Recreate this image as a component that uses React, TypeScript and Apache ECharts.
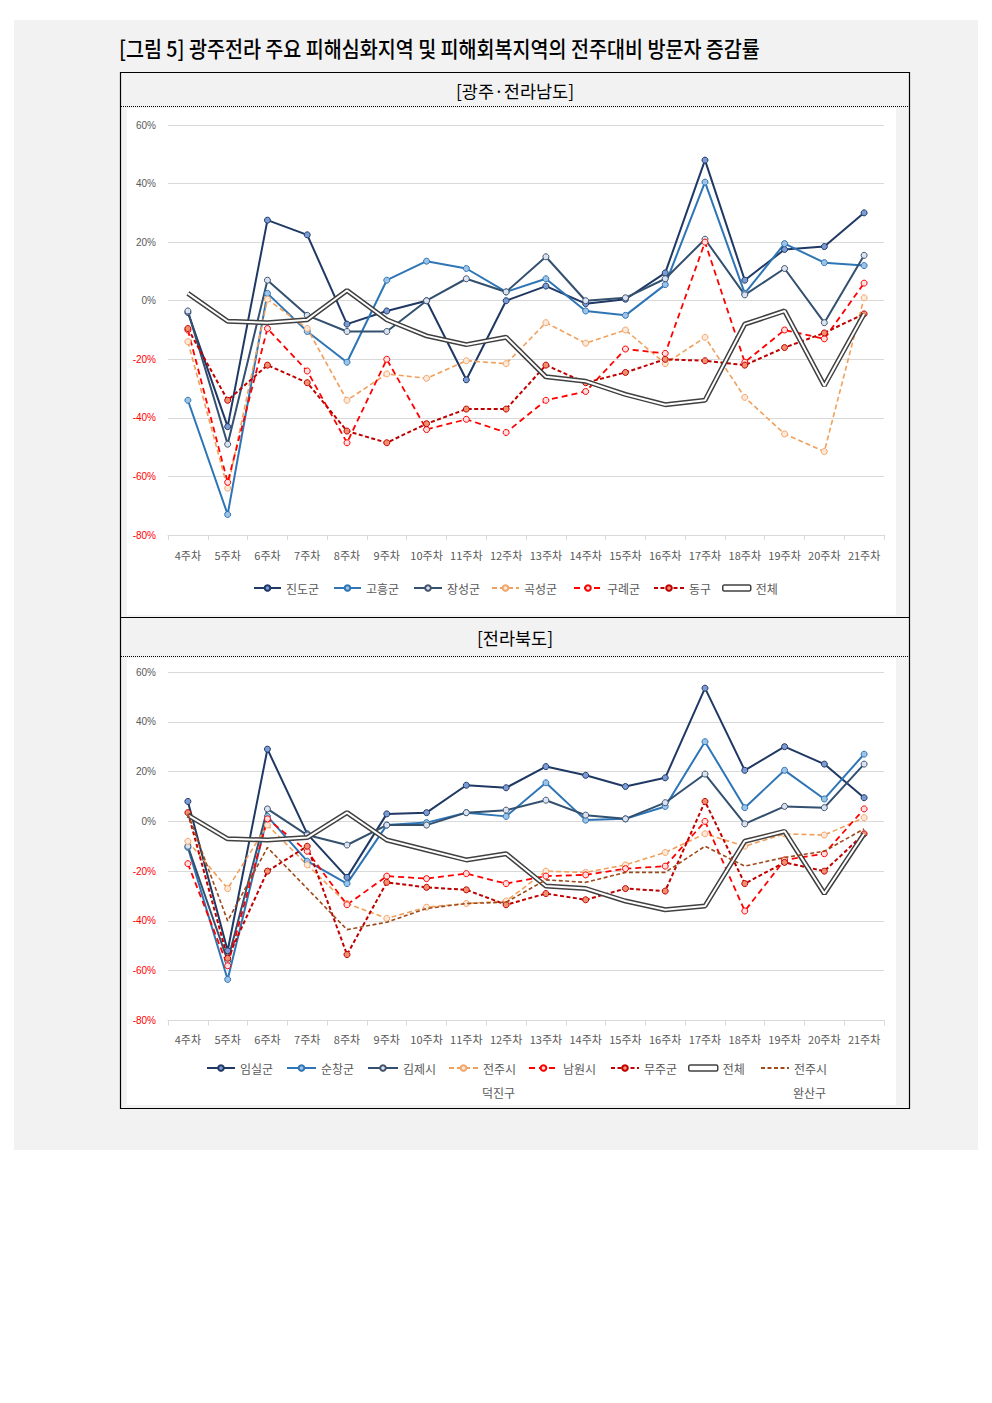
import React, { useEffect, useRef } from "react";
import * as echarts from "echarts";

// ---------- data ----------
const weeks = ["4주차", "5주차", "6주차", "7주차", "8주차", "9주차", "10주차", "11주차", "12주차", "13주차", "14주차", "15주차", "16주차", "17주차", "18주차", "19주차", "20주차", "21주차"];

// 광주·전라남도 (%)
const jindo = [-4, -43, 27.5, 22.5, -8, -3.5, 0, -27, 0, 5, -1, 0.5, 9.5, 48, 7, 17.5, 18.5, 30];
const goheung = [-34, -73, 2.5, -10.5, -21, 7, 13.5, 11, 3, 7.5, -3.5, -5, 5.5, 40.5, 2.5, 19.5, 13, 12];
const jangseong = [-3.5, -49, 7, -5, -10.5, -10.5, 0, 7.5, 3, 15, 0, 1, 7.5, 21, 2, 11, -7.5, 15.5];
const gokseong = [-14, -64, 0.5, -9.5, -34, -25, -26.5, -20.5, -21.5, -7.5, -14.5, -10, -21.5, -12.5, -33, -45.5, -51.5, 1];
const gurye = [-10, -62, -9.5, -24, -48.5, -20, -44, -40.5, -45, -34, -31, -16.5, -18, 20, -21, -10, -13, 6];
const donggu = [-9.5, -34, -22, -28, -44.5, -48.5, -42, -37, -37, -22, -28, -24.5, -20, -20.5, -22, -16, -11, -4.5];
const totalSouth = [2.5, -7, -7.5, -6.5, 3.5, -6.5, -12, -15, -12.5, -26, -27.5, -32, -35.5, -34, -8, -3.5, -29, -4.5];

// 전라북도 (%)
const imsil = [8, -52, 29, -5, -22.5, 3, 3.5, 14.5, 13.5, 22, 18.5, 14, 17.5, 53.5, 20.5, 30, 23, 9.5];
const sunchang = [-10.5, -63.5, 2, -16, -25, -1.5, -0.5, 3.5, 2, 15.5, 0.5, 1, 6, 32, 5.5, 20.5, 9, 27];
const gimje = [-10, -56, 5, -5.5, -9.5, -1.5, -1.5, 3.5, 4.5, 8.5, 2.5, 1, 7.5, 19, -1, 6, 5.5, 23];
const deokjin = [-8, -27, -1.5, -17.5, -33, -39, -34.5, -33, -32, -20, -20.5, -17.5, -12.5, -5, -10, -5, -5.5, 1.5];
const namwon = [-17, -58, 1, -12, -33.5, -22, -23, -21, -25, -22, -21.5, -19, -18, 0, -36, -15.5, -13, 5];
const muju = [3.5, -55, -20, -10, -53.5, -24.5, -26.5, -27.5, -33.5, -29, -31.5, -27, -28, 8, -25, -16.5, -20, -5];
const totalNorth = [2.5, -7, -7.5, -6.5, 3.5, -7.5, -11.5, -15.5, -13, -26, -27, -32, -35.5, -34, -8, -4, -29, -5];
const wansan = [3, -40, -10.5, -27, -43.5, -40.5, -35, -33, -32.5, -23.5, -24.5, -20.5, -20.5, -10, -18, -14.5, -12, -3];

const yMin = -80;
const yMax = 60;
const yStep = 20;

// ---------- styles ----------
const FONT = '"Noto Sans CJK KR", "Noto Sans", sans-serif';
type St = { line: string; width: number; dash?: number[]; fill?: string; border?: string };
const S_NAVY: St = { line: "#1f3864", width: 2, fill: "#7b9bd6", border: "#1f3864" };
const S_BLUE: St = { line: "#2e75b6", width: 2, fill: "#9dc3e6", border: "#2e75b6" };
const S_SLATE: St = { line: "#33506f", width: 2, fill: "#dae3f3", border: "#44546a" };
const S_ORANGE: St = { line: "#f0a05a", width: 1.6, dash: [5, 3], fill: "#fde9d9", border: "#f4a56b" };
const S_RED: St = { line: "#ff0000", width: 1.8, dash: [6, 4], fill: "#ffe0e0", border: "#ff0000" };
const S_DARKRED: St = { line: "#c00000", width: 2, dash: [4, 2.5], fill: "#f0906e", border: "#c00000" };
const S_BROWN: St = { line: "#9c4a1a", width: 1.6, dash: [4, 2.5] };

function lineSeries(name: string, data: number[], st: St, gi: number) {
  return {
    name,
    type: "line",
    xAxisIndex: gi,
    yAxisIndex: gi,
    data,
    symbol: st.fill ? "circle" : "none",
    symbolSize: 6,
    showSymbol: !!st.fill,
    lineStyle: { color: st.line, width: st.width, type: st.dash ? st.dash : "solid" },
    itemStyle: st.fill ? { color: st.fill, borderColor: st.border, borderWidth: 1 } : { color: st.line },
    emphasis: { disabled: true },
    z: 3,
  };
}

function totalSeries(data: number[], gi: number) {
  return [
    {
      name: "전체",
      type: "line",
      xAxisIndex: gi,
      yAxisIndex: gi,
      data,
      symbol: "none",
      lineStyle: { color: "#404040", width: 5 },
      itemStyle: { color: "#404040" },
      emphasis: { disabled: true },
      z: 4,
    },
    {
      name: "전체-inner-" + gi,
      type: "line",
      xAxisIndex: gi,
      yAxisIndex: gi,
      data,
      symbol: "none",
      lineStyle: { color: "#ffffff", width: 2 },
      itemStyle: { color: "#ffffff" },
      emphasis: { disabled: true },
      z: 4,
    },
  ];
}

function xAxis(gi: number, margin: number) {
  return {
    type: "category",
    gridIndex: gi,
    data: weeks,
    boundaryGap: true,
    axisLine: { show: true, onZero: false, lineStyle: { color: "#d9d9d9", width: 1 } },
    axisTick: { show: true, length: 5, interval: 0, lineStyle: { color: "#d9d9d9" } },
    axisLabel: { interval: 0, color: "#595959", fontSize: 11, fontFamily: FONT, margin },
    splitLine: { show: false },
  };
}

function yAxis(gi: number) {
  return {
    type: "value",
    gridIndex: gi,
    min: yMin,
    max: yMax,
    interval: yStep,
    axisLine: { show: false },
    axisTick: { show: false },
    axisLabel: {
      margin: 12,
      fontSize: 10,
      fontFamily: '"Liberation Sans Narrow", "Liberation Sans", Arial, sans-serif',
      formatter: (v: number) => `${v}%`,
      color: (v: any) => (Number(v) < 0 ? "#ff0000" : "#595959"),
    },
    splitLine: { show: true, lineStyle: { color: "#d9d9d9", width: 1 } },
  };
}

type LegItem = { name: string; x: number; y: number; w: number; kind?: "total" | "plain" };
function legendFor(it: LegItem) {
  let d: any = it.name;
  if (it.kind === "total") {
    d = { name: it.name, icon: "roundRect", itemStyle: { color: "#ffffff", borderColor: "#404040", borderWidth: 1.5 } };
  } else if (it.kind === "plain") {
    d = { name: it.name, itemStyle: { color: "rgba(0,0,0,0)", borderColor: "rgba(0,0,0,0)", borderWidth: 0, opacity: 0 } };
  }
  return {
    show: true,
    data: [d],
    left: it.x,
    top: it.y - 8,
    padding: 0,
    orient: "horizontal",
    itemWidth: it.w,
    itemHeight: it.kind === "total" ? 6 : 7,
    selectedMode: false,
    textStyle: { color: "#595959", fontSize: 12, fontFamily: FONT },
    formatter: (n: string) => n.split(" ")[0],
  };
}

const legendSouth: LegItem[] = [
  { name: "진도군", x: 253, y: 590, w: 27 },
  { name: "고흥군", x: 333, y: 590, w: 27 },
  { name: "장성군", x: 413, y: 590, w: 28 },
  { name: "곡성군", x: 491, y: 590, w: 27 },
  { name: "구례군", x: 573, y: 590, w: 28 },
  { name: "동구", x: 653, y: 590, w: 30 },
  { name: "전체", x: 722, y: 590, w: 28, kind: "total" },
];
const legendNorth: LegItem[] = [
  { name: "임실군", x: 206, y: 1070, w: 28 },
  { name: "순창군", x: 286, y: 1070, w: 29 },
  { name: "김제시", x: 367, y: 1070, w: 30 },
  { name: "전주시 덕진구", x: 448, y: 1070, w: 29 },
  { name: "남원시", x: 528, y: 1070, w: 29 },
  { name: "무주군", x: 610, y: 1070, w: 28 },
  { name: "전체", x: 688, y: 1070, w: 29, kind: "total" },
  { name: "전주시 완산구", x: 760, y: 1070, w: 28, kind: "plain" },
];

function buildOption() {
  const graphic: any[] = [
    { type: "rect", z: -20, silent: true, shape: { x: 14, y: 20, width: 964, height: 1130 }, style: { fill: "#f2f2f2" } },
    { type: "rect", z: -19, silent: true, shape: { x: 127, y: 108, width: 769, height: 507 }, style: { fill: "#ffffff" } },
    { type: "rect", z: -19, silent: true, shape: { x: 127, y: 658, width: 769, height: 447 }, style: { fill: "#ffffff" } },
    { type: "rect", z: 10, silent: true, shape: { x: 120.5, y: 72.5, width: 789, height: 1036 }, style: { fill: "none", stroke: "#000000", lineWidth: 1.2 } },
    { type: "line", z: 10, silent: true, shape: { x1: 121, y1: 106.5, x2: 909, y2: 106.5 }, style: { stroke: "#000000", lineWidth: 1, lineDash: [1, 1] } },
    { type: "line", z: 10, silent: true, shape: { x1: 121, y1: 617.5, x2: 909, y2: 617.5 }, style: { stroke: "#000000", lineWidth: 1.2 } },
    { type: "line", z: 10, silent: true, shape: { x1: 121, y1: 656.5, x2: 909, y2: 656.5 }, style: { stroke: "#000000", lineWidth: 1, lineDash: [1, 1] } },
    {
      type: "text", z: 10, silent: true, x: 119, y: 47, scaleX: 0.89,
      style: { text: "[그림 5] 광주전라 주요 피해심화지역 및 피해회복지역의 전주대비 방문자 증감률", fill: "#000000", fontSize: 22, fontFamily: FONT, fontWeight: 500, textAlign: "left", align: "left", verticalAlign: "middle", textVerticalAlign: "middle" },
    },
    {
      type: "text", z: 10, silent: true, x: 515, y: 90, scaleX: 1.0,
      style: { text: "[광주·전라남도]", fill: "#000000", fontSize: 17.5, fontFamily: FONT, textAlign: "center", align: "center", verticalAlign: "middle", textVerticalAlign: "middle" },
    },
    {
      type: "text", z: 10, silent: true, x: 515, y: 637, scaleX: 1.0,
      style: { text: "[전라북도]", fill: "#000000", fontSize: 17.5, fontFamily: FONT, textAlign: "center", align: "center", verticalAlign: "middle", textVerticalAlign: "middle" },
    },
    {
      type: "text", z: 10, silent: true, x: 482, y: 1092,
      style: { text: "덕진구", fill: "#595959", fontSize: 12, fontFamily: FONT, textAlign: "left", align: "left", verticalAlign: "middle", textVerticalAlign: "middle" },
    },
    {
      type: "text", z: 10, silent: true, x: 793, y: 1092,
      style: { text: "완산구", fill: "#595959", fontSize: 12, fontFamily: FONT, textAlign: "left", align: "left", verticalAlign: "middle", textVerticalAlign: "middle" },
    },
  ];

  const series: any[] = [
    lineSeries("진도군", jindo, S_NAVY, 0),
    lineSeries("고흥군", goheung, S_BLUE, 0),
    lineSeries("장성군", jangseong, S_SLATE, 0),
    lineSeries("곡성군", gokseong, S_ORANGE, 0),
    lineSeries("구례군", gurye, S_RED, 0),
    lineSeries("동구", donggu, S_DARKRED, 0),
    ...totalSeries(totalSouth, 0),
    lineSeries("임실군", imsil, S_NAVY, 1),
    lineSeries("순창군", sunchang, S_BLUE, 1),
    lineSeries("김제시", gimje, S_SLATE, 1),
    lineSeries("전주시 덕진구", deokjin, S_ORANGE, 1),
    lineSeries("남원시", namwon, S_RED, 1),
    lineSeries("무주군", muju, S_DARKRED, 1),
    ...totalSeries(totalNorth, 1),
    { ...lineSeries("전주시 완산구", wansan, S_BROWN, 1), z: 5 },
  ];

  return {
    animation: false,
    backgroundColor: "#ffffff",
    graphic,
    grid: [
      { left: 168, top: 125, width: 716, height: 410, containLabel: false },
      { left: 168, top: 672, width: 716, height: 348.5, containLabel: false },
    ],
    xAxis: [xAxis(0, 14), xAxis(1, 13)],
    yAxis: [yAxis(0), yAxis(1)],
    legend: [...legendSouth.map(legendFor), ...legendNorth.map(legendFor)],
    series,
  };
}

export default function App() {
  const ref = useRef<HTMLDivElement>(null);
  useEffect(() => {
    document.body.style.margin = "0";
    if (!ref.current) return;
    const chart = echarts.init(ref.current, undefined, { renderer: "svg" });
    chart.setOption(buildOption() as any);
    return () => chart.dispose();
  }, []);
  return <div ref={ref} style={{ width: 992, height: 1403 }} />;
}
